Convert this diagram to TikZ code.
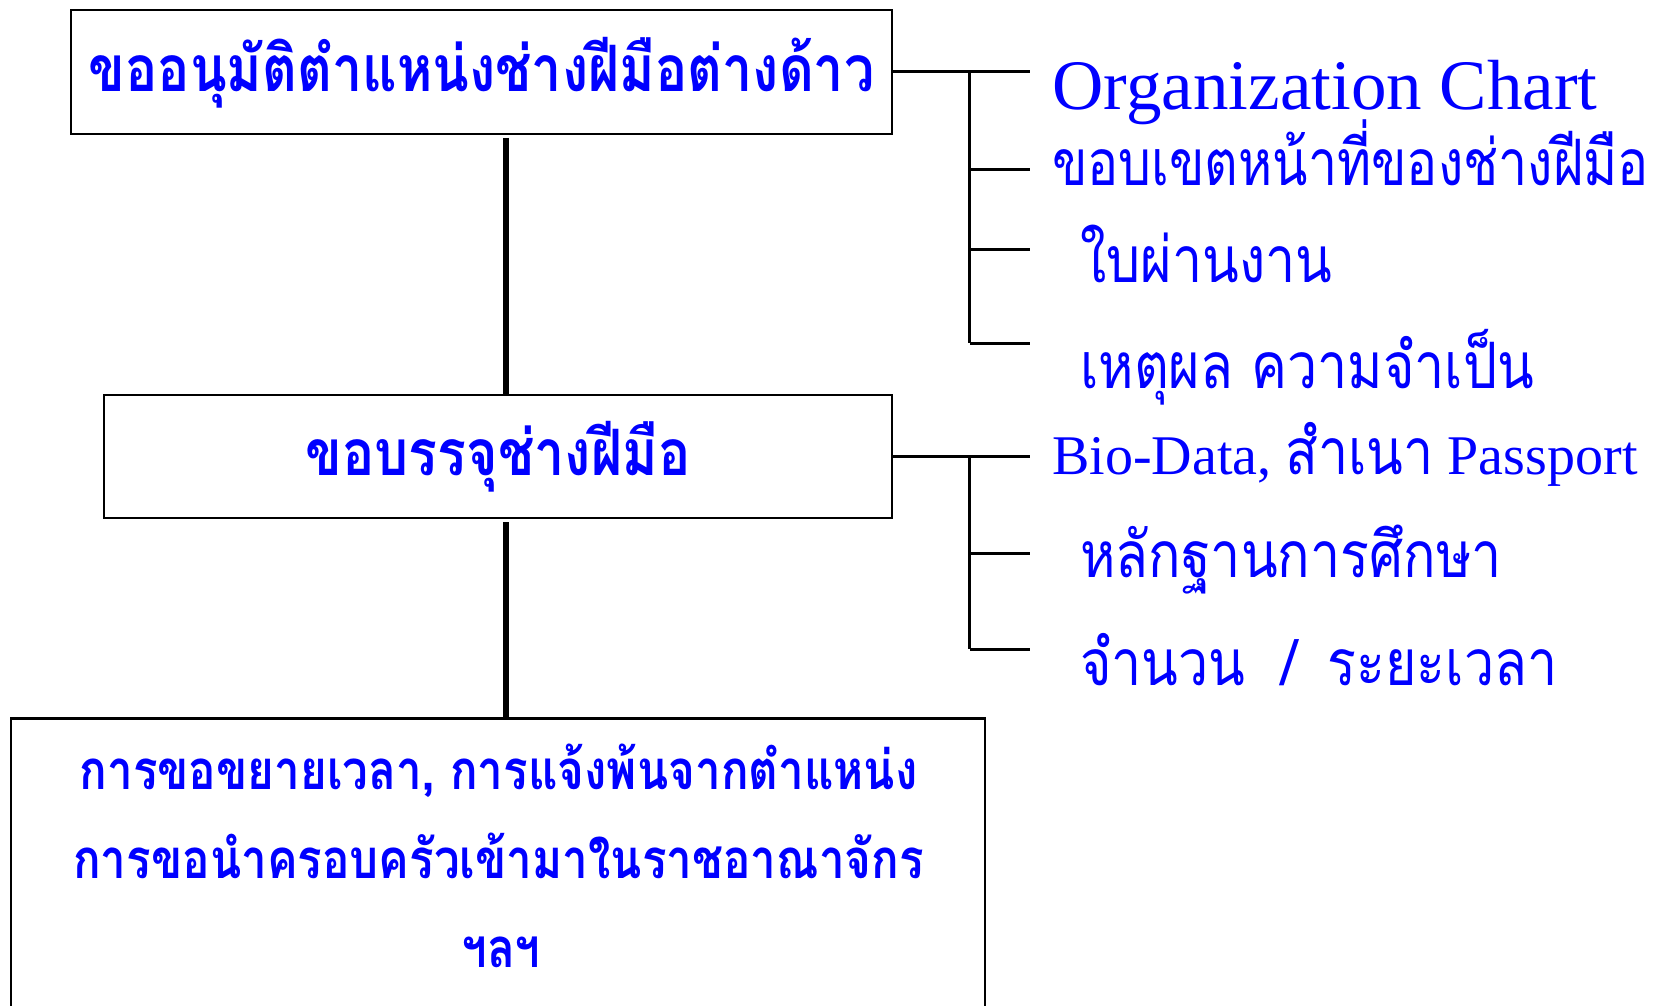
\documentclass[tikz,border=0pt]{standalone}
\usepackage{fontspec}
\setmainfont{Liberation Serif}
\newfontfamily\thaif[Script=Thai,FakeStretch=0.84]{Loma}
\newfontfamily\thain[Script=Thai,FakeStretch=0.81]{Loma}
\definecolor{txtblue}{RGB}{0,0,255}
\newcommand{\thaibig}{\thaif\bfseries\fontsize{64}{89}\selectfont}
\newcommand{\thaisub}{\thaif\bfseries\fontsize{54.5}{89}\selectfont}
\newcommand{\thaimid}{\thaif\fontsize{64}{77}\selectfont}
\tikzset{
  box/.style={draw=black, line width=2.5pt, inner sep=0pt, text=txtblue, align=center, font=\thaibig},
  conn/.style={draw=black, line width=3pt},
  trunk/.style={draw=black, line width=5.5pt},
  item/.style={inner sep=0pt, anchor=base west, text=txtblue},
  subline/.style={inner sep=0pt, anchor=base, text=txtblue, font=\thaisub},
}
\begin{document}
\begin{tikzpicture}[x=1pt,y=-1pt]
\useasboundingbox (0,0) rectangle (1665,1006);
% boxes
\node[box, minimum width=821pt, minimum height=124pt, text height=45pt, text depth=6pt] (b1) at (481.5,72) {ขออนุมัติตำแหน่งช่างฝีมือต่างด้าว};
\node[box, minimum width=788pt, minimum height=123pt, text height=42pt, text depth=5pt] (b2) at (498,456.5) {ขอบรรจุช่างฝีมือ};
\node[box, anchor=north, minimum width=974pt, minimum height=310pt] (b3) at (498,717) {};
\node[subline] (l1) at (498.5,789) {การขอขยายเวลา, การแจ้งพ้นจากตำแหน่ง};
\node[subline] (l2) at (498.5,878) {การขอนำครอบครัวเข้ามาในราชอาณาจักร};
\node[subline] (l3) at (501,967) {ฯลฯ};
% right items
\node[item, font=\fontsize{71}{80}\selectfont] (t1) at (1052.5,110) {Organization Chart};
\node[item, font=\thain\fontsize{64}{77}\selectfont] (t2) at (1052,185.7) {ขอบเขตหน้าที่ของช่างฝีมือ};
\node[item, font=\thaimid] (t3) at (1080,282.7) {ใบผ่านงาน};
\node[item, font=\thaimid] (t4) at (1080,388) {เหตุผล ความจำเป็น};
\node[item, font=\fontsize{56}{66}\selectfont] (t5) at (1052,474) {Bio-Data, {\thaimid สำเนา} Passport};
\node[item, font=\thaimid] (t6) at (1080,577.7) {หลักฐานการศึกษา};
\node[item, font=\thaimid] (t7) at (1080,685) {จำนวน\ \ /\hspace{30pt}ระยะเวลา};
% trunk lines
\coordinate (u1) at (506,138);
\coordinate (u2) at (506,522);
\draw[trunk] (u1) -- (u1 |- b2.north);
\draw[trunk] (u2) -- (u2 |- b3.north);
% bracket 1
\coordinate (s1) at (969.5,72);
\coordinate (e1) at (1030,72);
\coordinate (s2) at (969.5,169);
\coordinate (e2) at (1030,169);
\coordinate (s3) at (969.5,249);
\coordinate (e3) at (1030,249);
\coordinate (s4) at (969.5,343);
\coordinate (e4) at (1030,343);
\draw[conn] (b1.east) -- (e1);
\draw[conn] (s1) -- (s4);
\draw[conn] (s2) -- (e2);
\draw[conn] (s3) -- (e3);
\draw[conn] (s4) -- (e4);
% bracket 2
\coordinate (r1) at (969.5,456.5);
\coordinate (f1) at (1030,456.5);
\coordinate (r2) at (969.5,553);
\coordinate (f2) at (1030,553);
\coordinate (r3) at (969.5,649);
\coordinate (f3) at (1030,649);
\draw[conn] (b2.east) -- (f1);
\draw[conn] (r1) -- (r3);
\draw[conn] (r2) -- (f2);
\draw[conn] (r3) -- (f3);
\end{tikzpicture}
\end{document}
